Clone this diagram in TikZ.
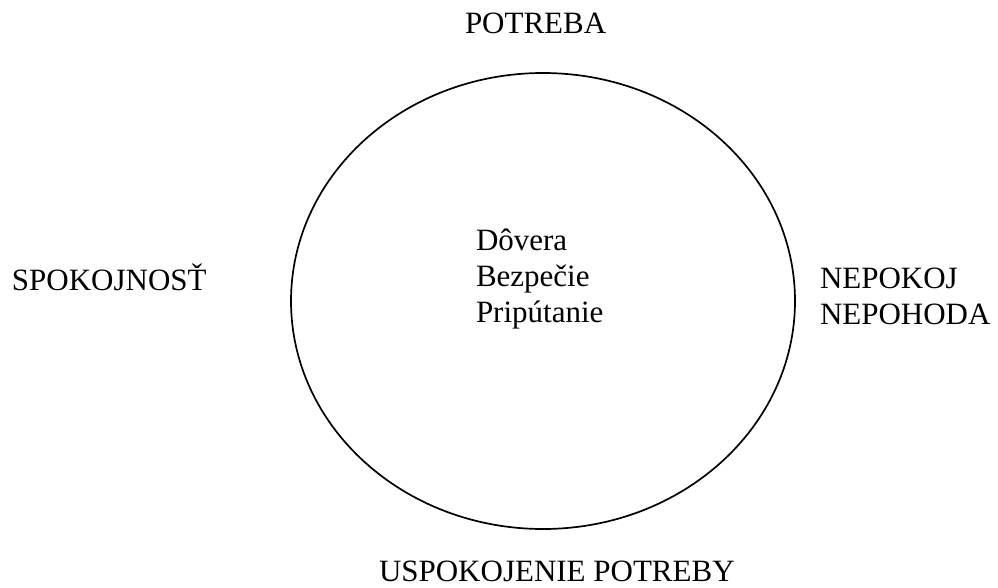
\documentclass[tikz,border=0pt]{standalone}
\usepackage{fontspec}
\setmainfont{Liberation Serif}
\usetikzlibrary{shapes.geometric}
\begin{document}
\begin{tikzpicture}[x=1pt,y=-1pt,
  lbl/.style={anchor=base west,inner sep=0pt,outer sep=0pt,font=\fontsize{31}{36}\selectfont},
  ring/.style={draw=black,line width=1.7pt}]
\useasboundingbox (0,0) rectangle (998,587);
\node[ring,ellipse,minimum width=504pt,minimum height=456pt,inner sep=0pt] (circ) at (543,301) {};
\node[lbl] (top) at (465,33) {POTREBA};
\node[lbl] (left) at (12,290) {SPOKOJNOSŤ};
\node[lbl] (right1) at (820,288) {NEPOKOJ};
\node[lbl] (right2) at (820,324) {NEPOHODA};
\node[lbl] (c1) at (476,250) {Dôvera};
\node[lbl] (c2) at (476,286) {Bezpečie};
\node[lbl] (c3) at (476,322) {Pripútanie};
\node[lbl] (bottom) at (379,581) {USPOKOJENIE POTREBY};
\end{tikzpicture}
\end{document}
